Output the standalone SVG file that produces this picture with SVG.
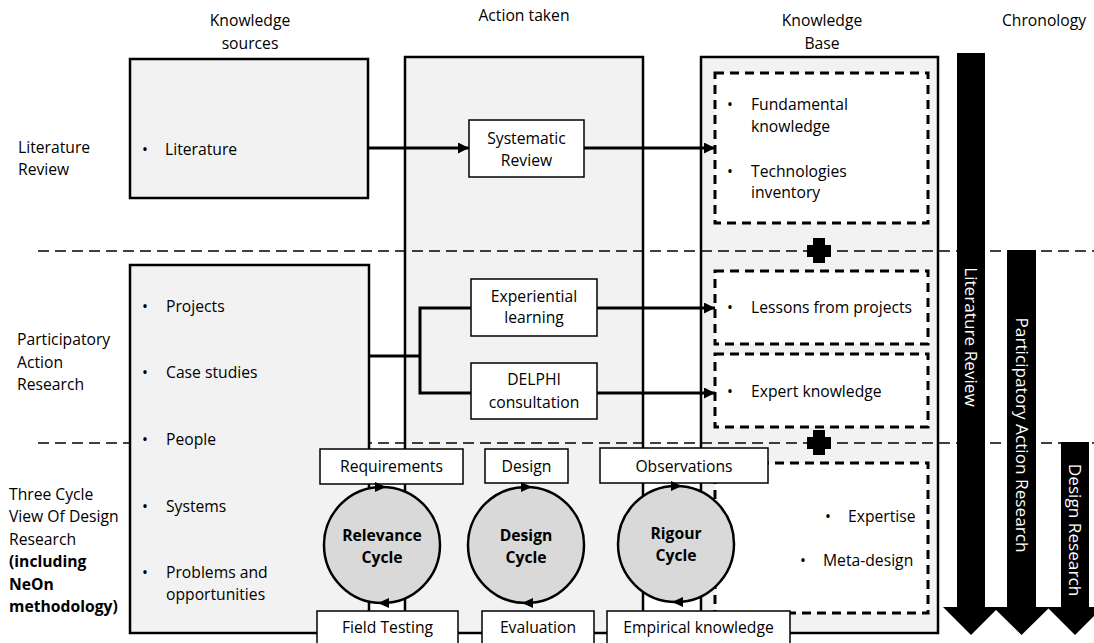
<svg xmlns="http://www.w3.org/2000/svg" width="1094" height="643" viewBox="0 0 1094 643">
  <defs>
    <marker id="arr" viewBox="0 0 10 10" refX="10" refY="5" markerWidth="11" markerHeight="11" markerUnits="userSpaceOnUse" orient="auto">
      <path d="M0,0 L10,5 L0,10 z" fill="#000"/>
    </marker>
    <style>
      text { font-family: "Open Sans", "Liberation Sans", sans-serif; font-size: 15.7px; fill: #000; }
      .b { font-weight: bold; }
      .c { text-anchor: middle; }
      .panel { fill: #f2f2f2; stroke: #000; stroke-width: 2.5; }
      .kb { fill: #fff; stroke: #000; stroke-width: 3; stroke-dasharray: 9 6; }
      .row { fill: none; stroke: #000; stroke-width: 1.3; stroke-dasharray: 11 6; }
      .lbl { fill: #fff; stroke: #000; stroke-width: 1.5; }
      .cyc { fill: #d9d9d9; stroke: #000; stroke-width: 2.5; }
      .conn { fill: none; stroke: #000; stroke-width: 3; }
      .chron { fill: #000; }
      .chron-t { fill: #fff; font-size: 17.2px; text-anchor: middle; }
    </style>
  </defs>

  <rect width="1094" height="643" fill="#fff"/>

  <!-- column headers -->
  <g id="headers">
    <text class="c" x="250" y="26">Knowledge</text>
    <text class="c" x="250" y="49">sources</text>
    <text class="c" x="524" y="21">Action taken</text>
    <text class="c" x="822" y="26">Knowledge</text>
    <text class="c" x="822" y="49">Base</text>
    <text class="c" x="1044" y="26">Chronology</text>
  </g>

  <!-- row headers -->
  <g id="row-labels">
    <text x="18" y="153">Literature</text>
    <text x="18" y="175">Review</text>
    <text x="17" y="345">Participatory</text>
    <text x="17" y="368">Action</text>
    <text x="17" y="390">Research</text>
    <text x="9" y="500">Three Cycle</text>
    <text x="9" y="522">View Of Design</text>
    <text x="9" y="545">Research</text>
    <text class="b" x="9" y="567">(including</text>
    <text class="b" x="9" y="590">NeOn</text>
    <text class="b" x="9" y="612">methodology)</text>
  </g>

  <!-- column panels -->
  <g id="action-panel">
    <rect class="panel" x="405" y="57" width="238" height="576"/>
  </g>
  <g id="knowledge-base">
    <rect class="panel" x="701" y="57" width="237" height="576"/>
  </g>

  <!-- row separators -->
  <g id="row-separators">
    <line class="row" x1="38" y1="251" x2="1094" y2="251"/>
    <line class="row" x1="38" y1="443" x2="1094" y2="443"/>
  </g>

  <!-- knowledge sources -->
  <g id="source-literature">
    <rect class="panel" x="130" y="59" width="238" height="139"/>
    <text x="142" y="155">•</text>
    <text x="165" y="155">Literature</text>
  </g>
  <g id="source-practice">
    <rect class="panel" x="130" y="265" width="239" height="368"/>
    <text x="142" y="312">•</text><text x="166" y="312">Projects</text>
    <text x="142" y="378">•</text><text x="166" y="378">Case studies</text>
    <text x="142" y="445">•</text><text x="166" y="445">People</text>
    <text x="142" y="512">•</text><text x="166" y="512">Systems</text>
    <text x="142" y="578">•</text><text x="166" y="578">Problems and</text>
    <text x="166" y="600">opportunities</text>
  </g>

  <!-- knowledge base contents -->
  <g id="kb-fundamentals">
    <rect class="kb" x="715" y="73" width="213" height="150"/>
    <text x="727" y="110">•</text><text x="751" y="110">Fundamental</text>
    <text x="751" y="132">knowledge</text>
    <text x="727" y="177">•</text><text x="751" y="177">Technologies</text>
    <text x="751" y="198">inventory</text>
  </g>
  <g id="kb-lessons">
    <rect class="kb" x="715" y="271" width="213" height="73"/>
    <text x="727" y="313">•</text><text x="751" y="313">Lessons from projects</text>
  </g>
  <g id="kb-expert">
    <rect class="kb" x="715" y="354" width="213" height="73"/>
    <text x="727" y="397">•</text><text x="751" y="397">Expert knowledge</text>
  </g>
  <g id="kb-expertise">
    <rect class="kb" x="715" y="463" width="213" height="150"/>
    <text x="825" y="522">•</text><text x="848" y="522">Expertise</text>
    <text x="800" y="566">•</text><text x="823" y="566">Meta-design</text>
  </g>

  <!-- plus signs joining knowledge base sections -->
  <g id="plus-1">
    <path d="M807,245 H831 V257 H807 Z M813,238 H825 V263 H813 Z" fill="#000"/>
  </g>
  <g id="plus-2">
    <path d="M807,437 H831 V449 H807 Z M813,430 H825 V455 H813 Z" fill="#000"/>
  </g>

  <!-- connectors -->
  <g id="connectors">
    <path class="conn" d="M368,148 H469" marker-end="url(#arr)"/>
    <path class="conn" d="M584,148 H715" marker-end="url(#arr)"/>
    <path class="conn" d="M369,356 H420"/>
    <path class="conn" d="M471,308 H420 V393 H471"/>
    <path class="conn" d="M597,308 H715" marker-end="url(#arr)"/>
    <path class="conn" d="M597,393 H715" marker-end="url(#arr)"/>
  </g>

  <!-- actions -->
  <g id="systematic-review">
    <rect class="lbl" x="469" y="120" width="115" height="57"/>
    <text class="c" x="526.5" y="144">Systematic</text>
    <text class="c" x="526.5" y="166">Review</text>
  </g>
  <g id="experiential-learning">
    <rect class="lbl" x="471" y="279" width="126" height="57"/>
    <text class="c" x="534" y="302">Experiential</text>
    <text class="c" x="534" y="323">learning</text>
  </g>
  <g id="delphi-consultation">
    <rect class="lbl" x="471" y="363" width="126" height="56"/>
    <text class="c" x="534" y="385">DELPHI</text>
    <text class="c" x="534" y="408">consultation</text>
  </g>

  <!-- cycle inputs and outputs -->
  <g id="requirements">
    <rect class="lbl" x="320" y="449" width="143" height="35"/>
    <text class="c" x="391.5" y="472">Requirements</text>
  </g>
  <g id="design">
    <rect class="lbl" x="485" y="449" width="83" height="34"/>
    <text class="c" x="526.5" y="472">Design</text>
  </g>
  <g id="observations">
    <rect class="lbl" x="600" y="448" width="168" height="35"/>
    <text class="c" x="684" y="472">Observations</text>
  </g>
  <g id="field-testing">
    <rect class="lbl" x="317" y="611" width="141" height="40"/>
    <text class="c" x="387.5" y="633">Field Testing</text>
  </g>
  <g id="evaluation">
    <rect class="lbl" x="482" y="611" width="112" height="40"/>
    <text class="c" x="538" y="633">Evaluation</text>
  </g>
  <g id="empirical-knowledge">
    <rect class="lbl" x="607" y="611" width="183" height="40"/>
    <text class="c" x="698.5" y="633">Empirical knowledge</text>
  </g>

  <!-- the three cycles -->
  <g id="relevance-cycle">
    <circle class="cyc" cx="382" cy="545" r="58"/>
    <polygon points="375,482 386,487 375,492" fill="#000"/>
    <polygon points="389,598 378,603 389,608" fill="#000"/>
    <text class="c b" x="382" y="541">Relevance</text>
    <text class="c b" x="382" y="563">Cycle</text>
  </g>
  <g id="design-cycle">
    <circle class="cyc" cx="526" cy="545" r="58"/>
    <polygon points="521,482 532,487 521,492" fill="#000"/>
    <polygon points="533,598 522,603 533,608" fill="#000"/>
    <text class="c b" x="526" y="541">Design</text>
    <text class="c b" x="526" y="563">Cycle</text>
  </g>
  <g id="rigour-cycle">
    <circle class="cyc" cx="676" cy="544" r="58"/>
    <polygon points="671,481 682,486 671,491" fill="#000"/>
    <polygon points="683,597 672,602 683,607" fill="#000"/>
    <text class="c b" x="676" y="539">Rigour</text>
    <text class="c b" x="676" y="561">Cycle</text>
  </g>

  <!-- chronology arrows -->
  <g id="chron-literature">
    <polygon class="chron" points="957,53 985,53 985,607 999,607 971,635 943,607 957,607"/>
    <text class="chron-t" transform="translate(971,337) rotate(90)" y="6">Literature Review</text>
  </g>
  <g id="chron-participatory">
    <polygon class="chron" points="1007,250 1036,250 1036,607 1050,607 1021.5,635 993,607 1007,607"/>
    <text class="chron-t" transform="translate(1021.5,435) rotate(90)" y="6">Participatory Action Research</text>
  </g>
  <g id="chron-design">
    <polygon class="chron" points="1061,442 1089,442 1089,607 1103,607 1075,635 1047,607 1061,607"/>
    <text class="chron-t" transform="translate(1075,530) rotate(90)" y="6">Design Research</text>
  </g>
</svg>
